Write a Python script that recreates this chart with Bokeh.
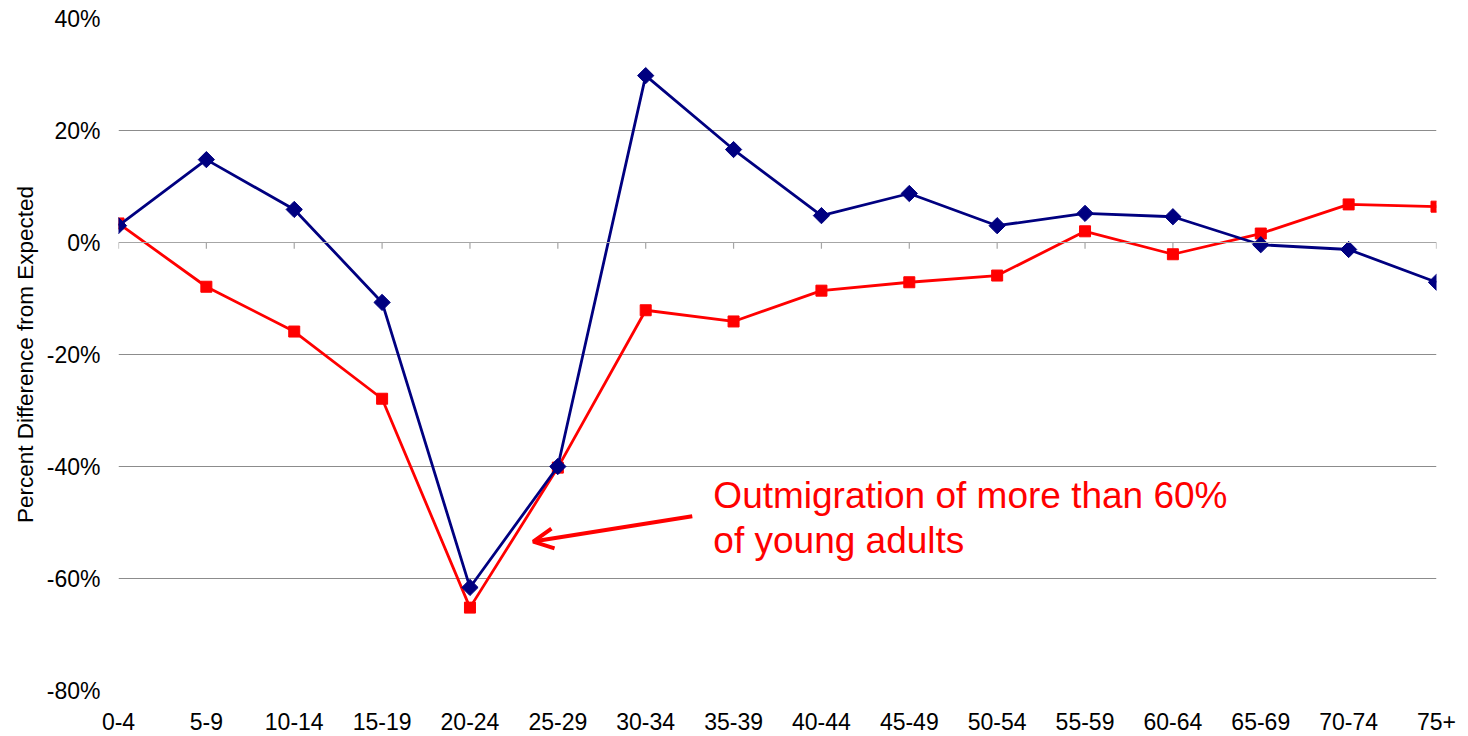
import math
from bokeh.plotting import figure
from bokeh.models import (Range1d, FixedTicker, PrintfTickFormatter, Span, Label,
                          Arrow, OpenHead, ColumnDataSource)
from bokeh.embed import file_html
from bokeh.resources import INLINE

ages = ["0-4", "5-9", "10-14", "15-19", "20-24", "25-29", "30-34", "35-39",
        "40-44", "45-49", "50-54", "55-59", "60-64", "65-69", "70-74", "75+"]
blue_vals = [3.0, 14.8, 5.9, -10.7, -61.6, -40.0, 29.8, 16.6,
             4.8, 8.75, 3.0, 5.2, 4.6, -0.4, -1.25, -7.1]
red_vals = [3.4, -7.9, -15.9, -27.9, -65.2, -40.2, -12.1, -14.1,
            -8.6, -7.1, -5.9, 2.0, -2.1, 1.6, 6.8, 6.4]
y_ticks = [-80, -60, -40, -20, 0, 20, 40]

idx = list(range(len(ages)))
src = ColumnDataSource(dict(x=idx, blue=blue_vals, red=red_vals,
                            y0=[0] * len(idx), y1=[-1.1] * len(idx)))

p = figure(width=1466, height=736, output_backend="svg", toolbar_location=None,
           x_range=Range1d(0, len(ages) - 1), y_range=Range1d(-80, 40),
           min_border_left=118, min_border_top=18, min_border_right=30,
           min_border_bottom=46)
p.outline_line_color = None
p.background_fill_color = "white"
p.border_fill_color = "white"

# grid
p.xgrid.grid_line_color = None
p.ygrid.ticker = FixedTicker(ticks=[t for t in y_ticks if t != 0])
p.ygrid.grid_line_color = "#8c8c8c"
p.ygrid.grid_line_width = 1

# y axis
p.yaxis.ticker = FixedTicker(ticks=y_ticks)
p.yaxis.formatter = PrintfTickFormatter(format="%d%%")
p.yaxis.axis_line_color = None
p.yaxis.major_tick_line_color = None
p.yaxis.minor_tick_line_color = None
p.yaxis.major_tick_out = 0
p.yaxis.major_label_standoff = 18
p.yaxis.major_label_text_font = "Liberation Sans"
p.yaxis.major_label_text_font_size = "23px"
p.yaxis.major_label_text_color = "black"
p.yaxis.axis_label = "Percent Difference from Expected"
p.yaxis.axis_label_text_font = "Liberation Sans"
p.yaxis.axis_label_text_font_size = "22.5px"
p.yaxis.axis_label_text_font_style = "normal"
p.yaxis.axis_label_text_color = "black"
p.yaxis.axis_label_standoff = 6

# x axis
p.xaxis.ticker = FixedTicker(ticks=idx)
p.xaxis.major_label_overrides = {i: a for i, a in zip(idx, ages)}
p.xaxis.axis_line_color = None
p.xaxis.major_tick_line_color = None
p.xaxis.minor_tick_line_color = None
p.xaxis.major_tick_out = 0
p.xaxis.major_label_standoff = 22
p.xaxis.major_label_text_font = "Liberation Sans"
p.xaxis.major_label_text_font_size = "23px"
p.xaxis.major_label_text_color = "black"

# zero axis line with ticks
p.add_layout(Span(location=0, dimension="width", line_color="#a6a6a6", line_width=1.2))
p.segment(x0="x", y0="y0", x1="x", y1="y1", source=src, line_color="#a6a6a6", line_width=1.2)

# series
p.line("x", "red", source=src, line_color="#ff0000", line_width=2.8)
p.scatter("x", "red", source=src, marker="square", size=11,
          fill_color="#ff0000", line_color="#ff0000")
p.line("x", "blue", source=src, line_color="#000080", line_width=2.8)
p.scatter("x", "blue", source=src, marker="square", angle=math.pi / 4, size=11.5,
          fill_color="#000080", line_color="#000080")

# annotation
p.add_layout(Arrow(end=OpenHead(size=20, line_color="#ff0000", line_width=4),
                   x_start=6.53, y_start=-48.9, x_end=4.72, y_end=-53.4,
                   line_color="#ff0000", line_width=4))
p.add_layout(Label(x=6.77, y=-45.2, text="Outmigration of more than 60%",
                   text_font="Liberation Sans", text_font_size="37px",
                   text_color="#ff0000", text_baseline="alphabetic"))
p.add_layout(Label(x=6.77, y=-53.3, text="of young adults",
                   text_font="Liberation Sans", text_font_size="37px",
                   text_color="#ff0000", text_baseline="alphabetic"))

open("out.html", "w").write(file_html(p, INLINE))
